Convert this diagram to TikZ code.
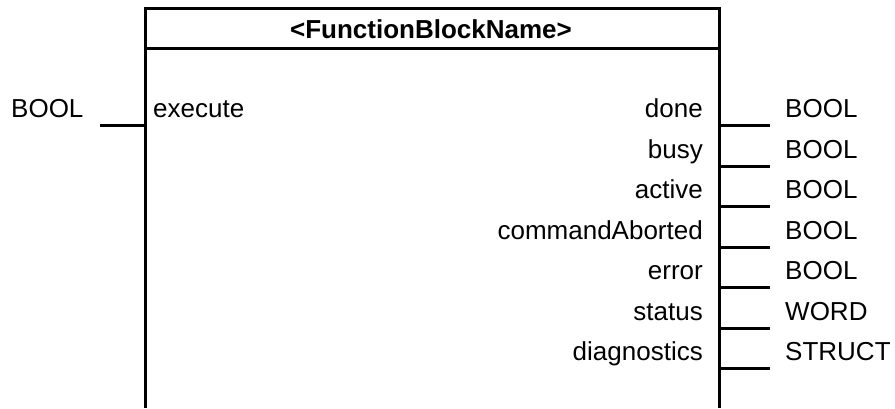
\documentclass[tikz,border=0pt]{standalone}
\usepackage{fontspec}
\setmainfont{Liberation Sans}
\begin{document}
\begin{tikzpicture}[x=1pt,y=-1pt,
  wire/.style={line width=3pt},
  pintext/.style={font=\fontsize{26}{30}\selectfont, inner sep=0pt},
  titletext/.style={font=\fontsize{26}{30}\selectfont\bfseries, inner sep=0pt}]
\useasboundingbox (0,0) rectangle (895,408);

% function block frame (open at the bottom)
\coordinate (bl) at (145,408);
\coordinate (tl) at (145,8.5);
\coordinate (tr) at (719,8.5);
\coordinate (br) at (719,408);
\coordinate (sepL) at (145,48.5);
\coordinate (sepR) at (719,48.5);
\draw[wire] (bl) -- (tl) -- (tr) -- (br);
\draw[wire] (sepL) -- (sepR);
\node[titletext, anchor=base] (title) at (431,38) {<FunctionBlockName>};

% input pin
\coordinate (inEnd) at (100,125.5);
\coordinate (inPin) at (145,125.5);
\draw[wire] (inEnd) -- (inPin);
\node[pintext, anchor=base west] (inType) at (11,117.5) {BOOL};
\node[pintext, anchor=base west] (inName) at (153,117.5) {execute};

% output pins
\foreach \name/\type [count=\i from 0] in
  {done/BOOL, busy/BOOL, active/BOOL, commandAborted/BOOL,
   error/BOOL, status/WORD, diagnostics/STRUCT} {
  \pgfmathsetmacro{\ly}{125.5+40.5*\i}
  \pgfmathsetmacro{\by}{\ly-8}
  \coordinate (outPin\i) at (719,\ly);
  \coordinate (outEnd\i) at (770,\ly);
  \draw[wire] (outPin\i) -- (outEnd\i);
  \node[pintext, anchor=base east] (outName\i) at (703,\by) {\name};
  \node[pintext, anchor=base west] (outType\i) at (785,\by) {\type};
}
\end{tikzpicture}
\end{document}
